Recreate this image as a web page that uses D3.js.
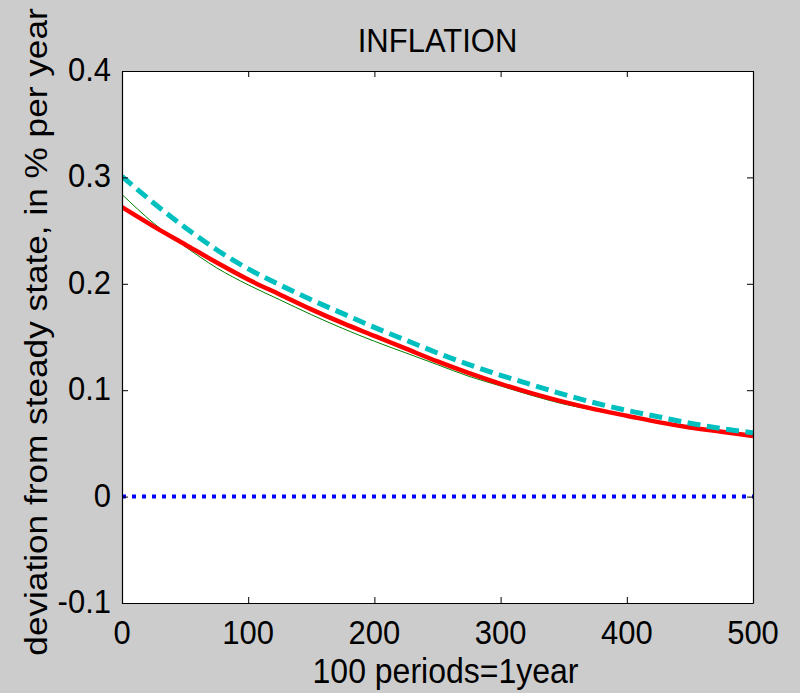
<!DOCTYPE html>
<html>
<head>
<meta charset="utf-8">
<script src="https://cdn.jsdelivr.net/npm/d3@7"></script>
<style>
  html, body { margin: 0; padding: 0; background: #cccccc; }
  svg { display: block; }
  text { font-family: "Liberation Sans", Arial, sans-serif; fill: #000; }
</style>
</head>
<body>
<svg id="chart" width="800" height="693"></svg>
<script>
// ---- data ----
const periods = [0, 25, 50, 75, 100, 125, 150, 175, 200, 225, 250, 275, 300, 325, 350, 375, 400, 425, 450, 475, 500];
const redSeries = [0.272, 0.254, 0.237, 0.220, 0.204, 0.190, 0.176, 0.163, 0.151, 0.139, 0.127, 0.116, 0.106, 0.097, 0.089, 0.082, 0.076, 0.070, 0.065, 0.061, 0.057];
const cyanSeries = [0.301, 0.276, 0.253, 0.232, 0.214, 0.199, 0.185, 0.172, 0.159, 0.147, 0.135, 0.124, 0.114, 0.105, 0.096, 0.088, 0.081, 0.075, 0.069, 0.064, 0.060];
const greenSeries = [0.284, 0.257, 0.235, 0.215, 0.199, 0.185, 0.171, 0.158, 0.146, 0.135, 0.124, 0.113, 0.104, 0.095, 0.087, 0.081, 0.075, 0.069, 0.064, 0.060, 0.056];
const zeroSeries = [0, 0];
const zeroPeriods = [0, 500];
const xTicks = [0, 100, 200, 300, 400, 500];
const yTicks = [-0.1, 0, 0.1, 0.2, 0.3, 0.4];
const yTickLabels = ["-0.1", "0", "0.1", "0.2", "0.3", "0.4"];
const titleText = "INFLATION";
const xLabelText = "100 periods=1year";
const yLabelText = "deviation from steady state, in % per year";

// ---- layout ----
const L = 122, R = 753, T = 71, B = 603;
const STRETCH = 1.1;
const svg = d3.select("#chart");
const x = d3.scaleLinear().domain([0, 500]).range([L, R]);
const y = d3.scaleLinear().domain([-0.1, 0.4]).range([B, T]);

svg.append("rect").attr("x", 0).attr("y", 0).attr("width", 800).attr("height", 693).attr("fill", "#cccccc");
svg.append("rect").attr("x", L).attr("y", T).attr("width", R - L).attr("height", B - T).attr("fill", "#ffffff");

svg.append("clipPath").attr("id", "clip").append("rect")
  .attr("x", L).attr("y", T - 5).attr("width", R - L + 2).attr("height", B - T + 10);

const plot = svg.append("g").attr("clip-path", "url(#clip)");
const line = d3.line().x(d => x(d[0])).y(d => y(d[1])).curve(d3.curveMonotoneX);

plot.append("path").datum(zeroPeriods.map((p, i) => [p, zeroSeries[i]]))
  .attr("d", line).attr("fill", "none").attr("stroke", "#0000ff")
  .attr("stroke-width", 4).attr("stroke-dasharray", "4,6");

plot.append("path").datum(periods.map((p, i) => [p, greenSeries[i]]))
  .attr("d", line).attr("fill", "none").attr("stroke", "#008000").attr("stroke-width", 1);

plot.append("path").datum(periods.map((p, i) => [p, redSeries[i]]))
  .attr("d", line).attr("fill", "none").attr("stroke", "#ff0000").attr("stroke-width", 4.5);

plot.append("path").datum(periods.map((p, i) => [p, cyanSeries[i]]))
  .attr("d", line).attr("fill", "none").attr("stroke", "#00bfbf")
  .attr("stroke-width", 5).attr("stroke-dasharray", "13,6.5");

// ---- axes (MATLAB style box with inward ticks) ----
const tickLen = 6;
const axB = svg.append("g").attr("transform", `translate(0,${B})`)
  .call(d3.axisBottom(x).tickValues(xTicks).tickSizeInner(-tickLen).tickSizeOuter(0).tickFormat(""));
const axT = svg.append("g").attr("transform", `translate(0,${T})`)
  .call(d3.axisTop(x).tickValues(xTicks).tickSizeInner(-tickLen).tickSizeOuter(0).tickFormat(""));
const axL = svg.append("g").attr("transform", `translate(${L},0)`)
  .call(d3.axisLeft(y).tickValues(yTicks).tickSizeInner(-tickLen).tickSizeOuter(0).tickFormat(""));
const axR = svg.append("g").attr("transform", `translate(${R},0)`)
  .call(d3.axisRight(y).tickValues(yTicks).tickSizeInner(-tickLen).tickSizeOuter(0).tickFormat(""));

[axB, axT, axL, axR].forEach(a => {
  a.selectAll(".domain").attr("stroke", "#000").attr("stroke-width", 1.2);
  a.selectAll(".tick line").attr("stroke", "#000").attr("stroke-width", 1);
});

// tick labels (glyphs slightly stretched vertically as in the reference)
svg.append("g").selectAll("text").data(xTicks).join("text")
  .attr("transform", d => `translate(${x(d)},644) scale(1,${STRETCH})`)
  .attr("text-anchor", "middle").style("font-size", "31px")
  .text(d3.format("d"));
svg.append("g").selectAll("text").data(yTicks).join("text")
  .attr("transform", d => `translate(111,${y(d) + 10}) scale(1,${STRETCH})`)
  .attr("text-anchor", "end").style("font-size", "31px")
  .text((d, i) => yTickLabels[i]);

// ---- labels ----
svg.append("text").attr("transform", `translate(${(L + R) / 2},52) scale(1,${STRETCH})`)
  .attr("text-anchor", "middle").style("font-size", "31px").text(titleText);
svg.append("text").attr("transform", `translate(${(L + R) / 2 + 8},683) scale(1,${STRETCH})`)
  .attr("text-anchor", "middle").style("font-size", "32px").text(xLabelText);
svg.append("text").attr("transform", `translate(47,332) scale(1,${STRETCH}) rotate(-90)`)
  .attr("text-anchor", "middle").style("font-size", "32px").text(yLabelText);
</script>
</body>
</html>
